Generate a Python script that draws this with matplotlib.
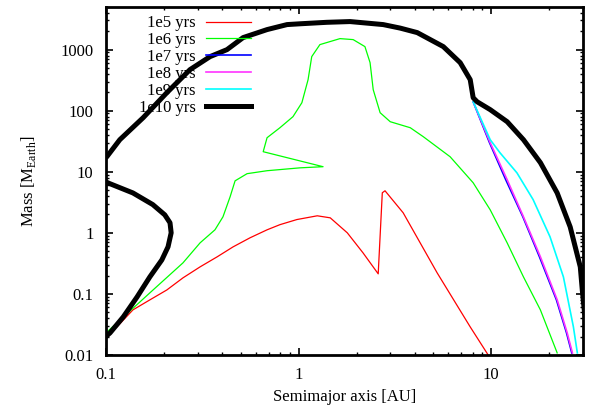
import matplotlib
matplotlib.use('Agg')
import matplotlib.pyplot as plt
from matplotlib.ticker import FixedLocator, LogLocator, NullFormatter

plt.rcParams['font.family'] = ['Liberation Serif', 'DejaVu Serif']
plt.rcParams['mathtext.fontset'] = 'custom'
plt.rcParams['mathtext.rm'] = 'Liberation Serif'

# 1e5 yrs
a_1e5 = [0.1, 0.114, 0.138, 0.169, 0.207, 0.251, 0.308, 0.378, 0.457, 0.560, 0.686,
         0.80, 0.98, 1.25, 1.46, 1.79, 2.16, 2.59, 2.72, 2.81, 3.49, 5.24, 7.78, 9.64]
m_1e5 = [0.0213, 0.0288, 0.0547, 0.0798, 0.116, 0.183, 0.277, 0.405, 0.589, 0.83, 1.12,
         1.36, 1.65, 1.90, 1.76, 1.0, 0.47, 0.213, 4.53, 4.88, 2.13, 0.221, 0.0288, 0.01]

# 1e6 yrs
a_1e6 = [0.1, 0.114, 0.169, 0.251, 0.308, 0.368, 0.405, 0.441, 0.468, 0.540, 0.686,
         1.02, 1.34, 0.655, 0.686, 0.80, 0.935, 1.04, 1.12, 1.17, 1.29, 1.64, 1.92,
         2.21, 2.35, 2.44, 2.65, 2.99, 3.80, 4.44, 6.12, 8.06, 9.88, 12.1, 14.7,
         18.0, 22.0]
m_1e6 = [0.023, 0.0335, 0.104, 0.322, 0.685, 1.12, 1.83, 3.89, 7.1, 9.3, 10.4,
         11.6, 12.1, 21.3, 36.1, 52.6, 79.8, 135, 322, 768, 1208, 1514, 1459,
         1120, 612, 221, 92.7, 66, 52.6, 37.5, 17.6, 6.6, 2.38, 0.685, 0.19,
         0.0547, 0.0108]

# 1e7 yrs
a_1e7 = [8.06, 9.80, 11.9, 14.6, 17.8, 21.8, 24.6, 26.2]
m_1e7 = [140, 29.9, 7.4, 1.83, 0.405, 0.080, 0.023, 0.0108]

# 1e8 yrs
a_1e8 = [8.06, 9.88, 12.1, 14.7, 18.0, 22.0, 24.8, 26.4]
m_1e8 = [140, 29.9, 7.4, 1.83, 0.405, 0.080, 0.023, 0.0108]

# 1e9 yrs
a_1e9 = [8.06, 9.88, 11.1, 13.6, 16.5, 20.2, 23.7, 26.7, 28.0]
m_1e9 = [140, 33.5, 20.5, 9.6, 3.5, 0.86, 0.19, 0.029, 0.0108]

# 1e10 yrs (lower branch, loop out of frame, upper branch)
a_1e10 = [0.098, 0.105, 0.123, 0.145, 0.169, 0.195, 0.210, 0.218, 0.215, 0.202,
          0.175, 0.138, 0.102, 0.08, 0.101, 0.118, 0.156, 0.207, 0.273, 0.347,
          0.425, 0.515, 0.686, 0.871, 1.02, 1.40, 1.85, 2.75, 3.37, 4.13,
          5.64, 6.90, 7.78, 8.06, 8.45, 9.88, 12.1, 14.7, 18.0, 22.0, 25.7, 29.0,
          29.7, 30.5]
m_1e10 = [0.019, 0.023, 0.042, 0.089, 0.19, 0.36, 0.59, 1.0, 1.46, 1.97,
          2.9, 4.5, 6.6, 10.0, 17.6, 33.5, 76.8, 197, 470, 768,
          1000, 1573, 2128, 2570, 2650, 2800, 2880, 2570, 2250, 1900,
          1120, 612, 322, 163, 140, 104, 66, 33.5, 14.1, 4.5, 1.25, 0.277,
          0.116, 0.05]

fig = plt.figure(figsize=(5.92, 4.08), dpi=100)
ax = fig.add_subplot(111)
fig.subplots_adjust(left=0.179, right=0.985, bottom=0.130, top=0.983)

ax.plot(a_1e5, m_1e5, color='#ff0000', lw=0.9, label='1e5 yrs')
ax.plot(a_1e6, m_1e6, color='#00ff00', lw=0.9, label='1e6 yrs')
ax.plot(a_1e7, m_1e7, color='#0000ff', lw=1.2, label='1e7 yrs')
ax.plot(a_1e8, m_1e8, color='#ff33ff', lw=1.2, label='1e8 yrs')
ax.plot(a_1e9, m_1e9, color='#00ffff', lw=1.2, label='1e9 yrs')
ax.plot(a_1e10, m_1e10, color='black', lw=3.6, label='1e10 yrs')

ax.set_xscale('log')
ax.set_yscale('log')
ax.set_xlim(0.1, 30)
ax.set_ylim(0.01, 5000)

ax.xaxis.set_major_locator(FixedLocator([0.1, 1, 10]))
ax.set_xticklabels(['0.1', '1', '10'])
ax.yaxis.set_major_locator(FixedLocator([0.01, 0.1, 1, 10, 100, 1000]))
ax.set_yticklabels(['0.01', '0.1', '1', '10', '100', '1000'])
ax.xaxis.set_minor_locator(LogLocator(base=10, subs=range(2, 10)))
ax.yaxis.set_minor_locator(LogLocator(base=10, subs=range(2, 10)))
ax.xaxis.set_minor_formatter(NullFormatter())
ax.yaxis.set_minor_formatter(NullFormatter())

ax.tick_params(which='both', direction='in', top=True, right=True, labelsize=12)
ax.tick_params(which='major', length=5, width=1.2, pad=9)
ax.tick_params(which='minor', length=2.5, width=1)
for s in ax.spines.values():
    s.set_linewidth(2)

ax.set_xlabel('Semimajor axis [AU]', fontsize=12, labelpad=4)
ax.set_ylabel(r'Mass [M$_{\mathrm{Earth}}$]', fontsize=12, labelpad=16)

ax.legend(loc='upper right', bbox_to_anchor=(0.31, 0.985), frameon=False,
          markerfirst=False, fontsize=12, handlelength=2.7, handletextpad=0.6,
          labelspacing=0.05, borderpad=0.2, borderaxespad=0.0)

plt.savefig('out.png', dpi=100)
